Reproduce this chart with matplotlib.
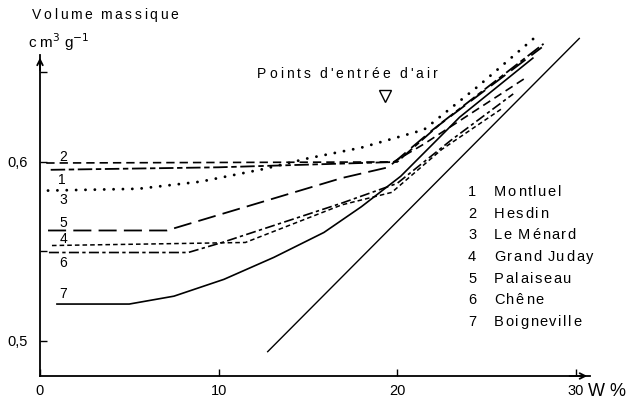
import numpy as np
import matplotlib
matplotlib.use('Agg')
import matplotlib.pyplot as plt
from matplotlib.font_manager import FontProperties

plt.rcParams['font.family'] = ['Liberation Sans', 'DejaVu Sans']

# W % (teneur en eau) et volume massique (cm3/g)
names = ['Montluel', 'Hesdin', 'Le Ménard', 'Grand Juday', 'Palaiseau', 'Chêne', 'Boigneville']

w1 = [0.6, 10, 20, 22.5, 28.2]
v1 = [0.5956, 0.597, 0.600, 0.622, 0.666]

w2 = [0.35, 10, 19.8, 21.5, 27.2]
v2 = [0.5994, 0.5997, 0.600, 0.610, 0.647]

w3 = [0.45, 5.5, 9, 12.5, 15, 18, 21.5, 24.5, 28]
v3 = [0.584, 0.585, 0.589, 0.596, 0.602, 0.608, 0.618, 0.642, 0.672]

w4 = [0.67, 11.5, 16.9, 19.7, 22.5, 25.9]
v4 = [0.5533, 0.555, 0.576, 0.583, 0.607, 0.630]

w5 = [0.45, 7.1, 16.9, 19.5, 22, 28.1]
v5 = [0.5617, 0.5617, 0.591, 0.597, 0.618, 0.664]

w6 = [0.5, 8.3, 10.2, 16.9, 20, 23, 26.5]
v6 = [0.5494, 0.5494, 0.555, 0.577, 0.588, 0.612, 0.638]

w7 = [0.95, 5, 7.5, 10.3, 13.1, 15.9, 18, 20.2, 23.5, 27.6]
v7 = [0.5206, 0.5206, 0.525, 0.5344, 0.5467, 0.5606, 0.575, 0.592, 0.625, 0.658]

# droite de saturation
w_sat = [12.75, 30.2]
v_sat = [0.494, 0.669]

# point d'entree d'air
w_air = 19.3
v_air = 0.637

series = [(w1, v1), (w2, v2), (w3, v3), (w4, v4), (w5, v5), (w6, v6), (w7, v7)]
styles = [(0, (8, 2, 3, 2)), (0, (5, 3)), (0, (0.01, 3.2)), (0, (3, 2)),
          (0, (10, 4)), (0, (6, 2, 2, 2)), '-']
widths = [1.3, 1.2, 2.1, 1.1, 1.3, 1.2, 1.2]
label_pos = [(1.0, 0.5899), (1.1, 0.6028), (1.1, 0.5788), (1.1, 0.557),
             (1.1, 0.5659), (1.1, 0.5436), (1.1, 0.5263)]

W, H = 634, 403
fig = plt.figure(figsize=(W / 100, H / 100), dpi=100)
ax = fig.add_axes([40 / W, 27 / H, 550 / W, 356 / H])
renderer = fig.canvas.get_renderer()


def spaced(x_px, y_px, s, size, track, center=False):
    # texte avec espacement des lettres, comme sur l'original
    fp = FontProperties(family=['Liberation Sans'], size=size)
    widths_ch = []
    for ch in s:
        w, h, d = renderer.get_text_width_height_descent(ch, fp, ismath=False)
        if ch == ' ':
            w = size * 0.3
        widths_ch.append(w)
    if center:
        total = sum(widths_ch) + track * (len(s) - 1)
        x_px = x_px - total / 2
    x = x_px
    for ch, w in zip(s, widths_ch):
        fig.text(x / W, 1 - y_px / H, ch, fontsize=size, va='center', ha='left')
        x += w + track


ylo, ytop = 0.4804, 0.6598
ax.set_xlim(0, 30.8)
ax.set_ylim(ylo, 0.6793)

for i, (w, v) in enumerate(series):
    ax.plot(w, v, color='black', lw=widths[i], linestyle=styles[i],
            dash_capstyle='round' if i == 2 else 'butt')
    ax.text(label_pos[i][0], label_pos[i][1], str(i + 1), fontsize=10,
            ha='left', va='center')

ax.plot(w_sat, v_sat, color='black', lw=1.0)
ax.plot([w_air], [v_air], marker='v', ms=9, mfc='white', mec='black', mew=1.0)
spaced(347, 74, "Points d'entrée d'air", 10, 3.0, center=True)

# legende
for i, n in enumerate(names):
    yy = 192 + i * 21.7
    fig.text(468 / W, 1 - yy / H, str(i + 1), fontsize=10.5, va='center')
    spaced(494, yy, n, 10.5, 1.6)

# axes
for s in ['top', 'right']:
    ax.spines[s].set_visible(False)
ax.spines['left'].set_bounds(ylo, ytop)
ax.spines['left'].set_linewidth(1.3)
ax.spines['bottom'].set_linewidth(1.3)
ax.annotate('', xy=(0, ytop), xytext=(0, ytop - 0.01),
            arrowprops=dict(arrowstyle='->', lw=1.3, color='black'))
ax.annotate('', xy=(30.8, ylo), xytext=(29.5, ylo),
            arrowprops=dict(arrowstyle='->', lw=1.3, color='black'),
            annotation_clip=False)

ax.set_yticks([0.5, 0.6])
ax.set_yticklabels(['0,5', '0,6'])
ax.set_yticks([0.55, 0.65], minor=True)
ax.set_xticks([0, 10, 20, 30])
ax.set_xticklabels(['0', '10', '20', '30'])
ax.tick_params(axis='both', direction='in', length=5, width=1, labelsize=10.5)
ax.tick_params(axis='y', which='minor', direction='in', length=5, width=1)
ax.tick_params(axis='y', pad=9)
ax.tick_params(axis='x', pad=6)

spaced(32, 15, 'Volume massique', 10, 2.6)
fig.text(28 / W, 1 - 42 / H, r'c m$^{3}$ g$^{-1}$', fontsize=11, va='center')
fig.text(588 / W, 1 - 391 / H, 'W %', fontsize=13, va='center')

fig.savefig('out.png', dpi=100)
